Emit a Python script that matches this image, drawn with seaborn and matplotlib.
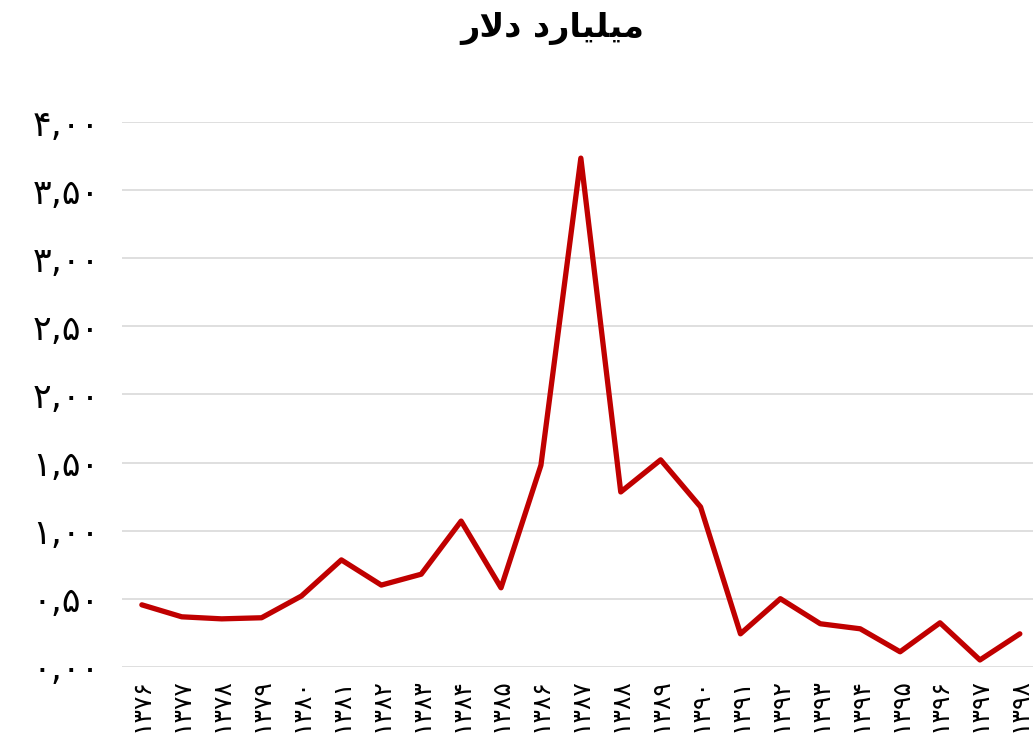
import numpy as np
import pandas as pd
import seaborn as sns
import matplotlib.pyplot as plt

years = list(range(1376, 1399))
values = [0.455, 0.367, 0.352, 0.36, 0.52, 0.785, 0.60, 0.68, 1.07, 0.58, 1.48,
          3.736, 1.284, 1.52, 1.174, 0.242, 0.50, 0.316, 0.279, 0.11, 0.323, 0.05, 0.242]
y_ticks = [0, 0.5, 1, 1.5, 2, 2.5, 3, 3.5, 4]

# title already shaped (presentation forms, visual order) since matplotlib has no bidi
title = "\ufead\ufefb\ufea9 \ufea9\ufead\ufe8e\ufbff\ufee0\ufbff\ufee3"

fa_digits = str.maketrans("0123456789", "۰۱۲۳۴۵۶۷۸۹")

def fa(s):
    return s.translate(fa_digits)

df = pd.DataFrame({"pos": np.arange(len(years)), "value": values})

sns.set_style("white")
plt.rcParams['font.family'] = ['DejaVu Sans']
plt.rcParams['text.color'] = 'black'
plt.rcParams['xtick.color'] = 'black'
plt.rcParams['ytick.color'] = 'black'

fig = plt.figure(figsize=(10.33, 7.45), dpi=100)
ax = fig.add_axes([0.118, 0.105, 0.882, 0.731])

sns.lineplot(data=df, x="pos", y="value", color="#c00000", linewidth=3.8, ax=ax)

ax.set_ylim(0, 4)
ax.set_xlim(-0.5, 22.33)
ax.set_yticks(y_ticks)
ax.set_yticklabels([fa(f"{v:.2f}".replace(".", ",")) for v in y_ticks], fontsize=25)
ax.set_xticks(df["pos"])
ax.set_xticklabels([fa(str(y)) for y in years], rotation=90, fontsize=18)
ax.tick_params(axis="both", length=0)
ax.tick_params(axis="y", pad=16)
ax.tick_params(axis="x", pad=8)
ax.grid(axis="y", color="#d9d9d9", linewidth=1.2)
ax.set_axisbelow(True)
for s in ax.spines.values():
    s.set_visible(False)
ax.set_xlabel("")
ax.set_ylabel("")

fig.text(0.535, 0.962, title, ha="center", va="center", fontsize=24, fontweight="bold")

fig.savefig("out.png", dpi=100)
